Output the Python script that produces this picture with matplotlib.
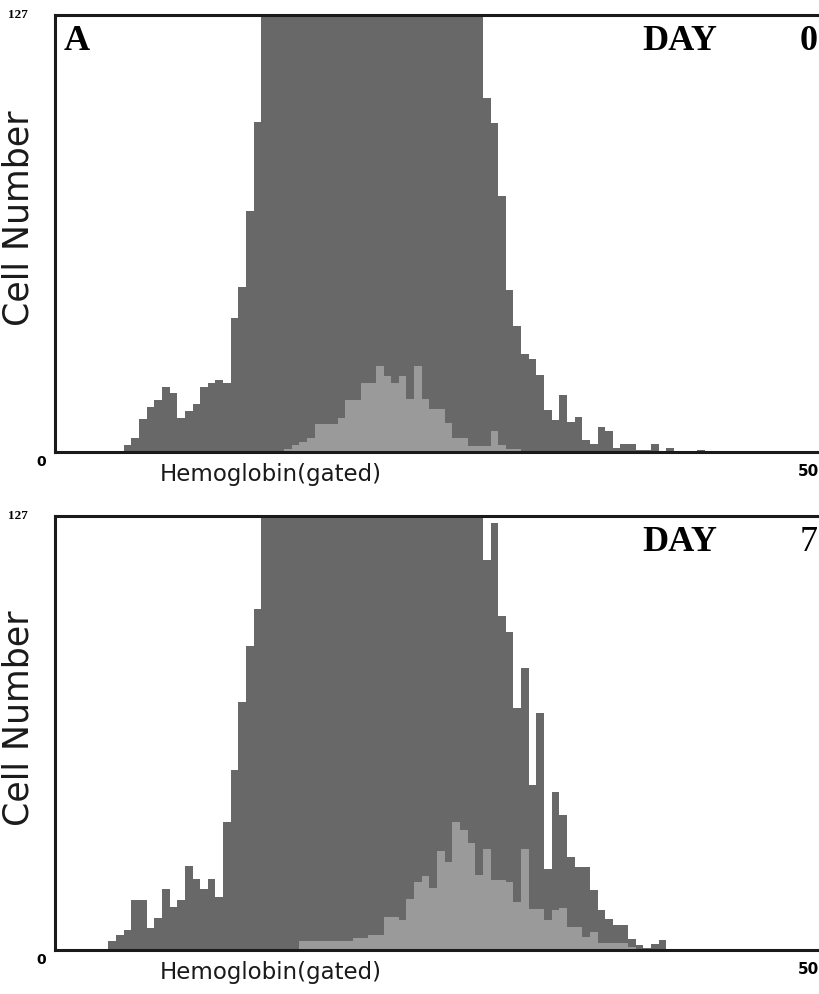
import numpy as np
import matplotlib
matplotlib.use("Agg")
import matplotlib.pyplot as plt

# channel counts (127 = off scale, clipped at top)
day0_start = 9
day0_total = [2, 4, 9.6, 13, 15, 19, 17, 10, 12, 14, 19, 20, 21, 20, 39, 48, 70, 96,
              127, 127, 127, 127, 127, 127, 127, 127, 127, 127, 127, 127, 127, 127, 127,
              127, 127, 127, 127, 127, 127, 127, 127, 127, 127, 127, 127, 127, 127,
              103, 95.5, 74.5, 47, 36.5, 28.4, 27, 22.4, 12.2, 9.3, 16.6, 8.8, 10.2,
              3.5, 2.3, 7.3, 6, 1.2, 2.3, 2.3, 0.5, 0.5, 2.3, 0, 1.2, 0, 0, 0, 0.5]
day0_gated_start = 30
day0_gated = [1, 2, 3, 4, 8, 8, 8, 10, 15, 15, 20, 20, 25, 22, 20, 22, 15.5, 25, 15.5,
              12.6, 12.6, 8.4, 4, 4, 1.8, 1.8, 1.8, 6, 2, 1, 1]

day7_start = 7
day7_total = [2.6, 4.4, 5.9, 14.7, 14.7, 6.5, 9.4, 17.7, 12.7, 14.7, 24.5, 20.9, 17.7,
              20.9, 15.6, 37.5, 52.8, 72.7, 88.9, 99.7,
              127, 127, 127, 127, 127, 127, 127, 127, 127, 127, 127, 127, 127, 127, 127,
              127, 127, 127, 127, 127, 127, 127, 127, 127, 127, 127, 127, 127, 127,
              114, 125, 97.7, 93, 70.7, 82.4, 48.4, 69.2, 23.8, 46.3, 39.6, 27.3, 24.3,
              24.3, 17.6, 11.7, 9.1, 7.3, 7.3, 3.2, 1.5, 0.5, 1.8, 3, 0.3]
day7_gated_start = 32
day7_gated = [2.5, 2.5, 2.5, 2.5, 2.5, 2.5, 2.5, 3.5, 3.5, 4.4, 4.4, 9.7, 9.7, 8.8, 15,
              20, 21.5, 18, 29, 25.7, 37.5, 35, 31.3, 22, 29.5, 20.5, 20.5, 20, 14, 29.5,
              12, 12, 8.8, 11.7, 12.3, 6.7, 6.7, 3.8, 5.3, 2, 2, 2, 2, 1]

panels = [("A", "0", day0_start, day0_total, day0_gated_start, day0_gated),
          ("", "7", day7_start, day7_total, day7_gated_start, day7_gated)]

dark = "#686868"
light = "#9a9a9a"
serif = "Liberation Serif"

fig = plt.figure(figsize=(8.2, 9.94), dpi=100)
boxes = [[0.067, 0.5453, 0.932, 0.4396], [0.067, 0.0443, 0.932, 0.4366]]

for box, (letter, day, s0, total, s1, gated) in zip(boxes, panels):
    ax = fig.add_axes(box)
    ax.bar(s0 + np.arange(len(total)), total, width=1, align="edge",
           color=dark, linewidth=0)
    ax.bar(s1 + np.arange(len(gated)), gated, width=1, align="edge",
           color=light, linewidth=0)
    ax.set_xlim(0, 100)
    ax.set_ylim(0, 127)
    ax.set_xticks([])
    ax.set_yticks([])
    for side in ["left", "top", "bottom"]:
        ax.spines[side].set_linewidth(2.2)
        ax.spines[side].set_color("#1a1a1a")
    ax.spines["right"].set_visible(False)

    if letter:
        ax.text(0.012, 0.92, letter, transform=ax.transAxes, fontsize=26,
                fontweight="bold", family=serif, va="baseline", ha="left")
    ax.text(0.768, 0.92, "DAY", transform=ax.transAxes, fontsize=26,
            fontweight="bold", family=serif, va="baseline", ha="left")
    ax.text(0.998, 0.92, day, transform=ax.transAxes, fontsize=26,
            fontweight="bold" if day == "0" else "normal", family=serif,
            va="baseline", ha="right")

    # scale labels
    ax.text(-0.035, 1.0, "127", transform=ax.transAxes, fontsize=9.5,
            fontweight="bold", family=serif, ha="right", va="center")
    ax.text(-0.012, -0.022, "0", transform=ax.transAxes, fontsize=10,
            fontweight="bold", ha="right", va="center")
    ax.text(1.0, -0.045, "50", transform=ax.transAxes, fontsize=11,
            fontweight="bold", ha="right", va="center")

    ax.text(-0.048, 0.535, "Cell Number", transform=ax.transAxes, fontsize=25,
            rotation=90, ha="center", va="center", color="#1a1a1a")
    ax.text(0.282, -0.025, "Hemoglobin(gated)", transform=ax.transAxes,
            fontsize=16.5, ha="center", va="top", color="#1a1a1a")

fig.savefig("out.png", dpi=100, facecolor="white")
